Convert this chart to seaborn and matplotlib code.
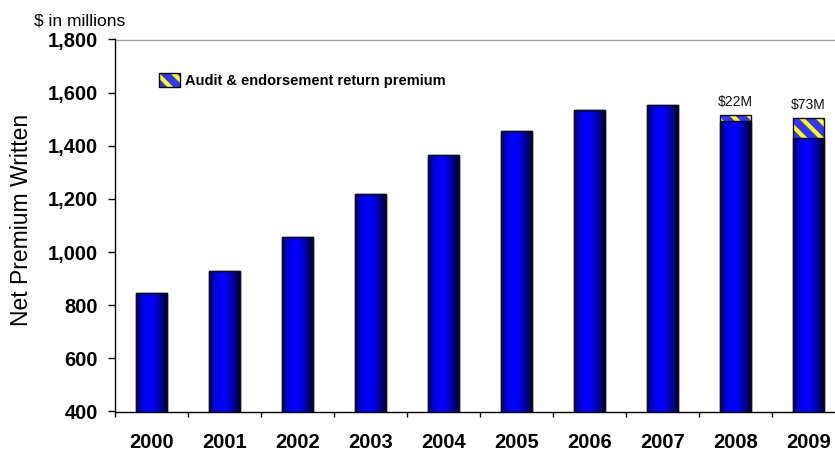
import numpy as np
import pandas as pd
import matplotlib
matplotlib.use("Agg")
import matplotlib.pyplot as plt
import seaborn as sns
from matplotlib.colors import LinearSegmentedColormap
from matplotlib.patches import Patch
from matplotlib.legend_handler import HandlerTuple
from matplotlib.ticker import FuncFormatter

# Net premium written, $ in millions
years = ["2000", "2001", "2002", "2003", "2004", "2005", "2006", "2007", "2008", "2009"]
net_premium = [845, 930, 1055, 1220, 1365, 1455, 1535, 1555, 1495, 1430]
return_premium = [0, 0, 0, 0, 0, 0, 0, 0, 22, 73]
y_ticks = [400, 600, 800, 1000, 1200, 1400, 1600, 1800]
legend_label = "Audit & endorsement return premium"

sns.set_theme(style="white")
plt.rcParams["font.family"] = ["Liberation Sans", "DejaVu Sans"]
plt.rcParams["hatch.linewidth"] = 3.0
for key in ("text.color", "axes.labelcolor", "xtick.color", "ytick.color"):
    plt.rcParams[key] = "black"

df = pd.DataFrame({"year": years, "base": net_premium, "extra": return_premium})
df["total"] = df["base"] + df["extra"]

W, H = 835, 457
Y_MIN, Y_MAX = 400, 1800
fig = plt.figure(figsize=(W / 100, H / 100), dpi=100)
ax = fig.add_axes([115 / W, 45.5 / H, 730 / W, 372 / H])

HATCH_BLUE = "#3434ff"
STRIPE = "#ffff00"
HATCH = "\\\\"
BAR_W = 0.42

# stacked totals with the striped return-premium look
sns.barplot(data=df, x="year", y="total", order=years, width=BAR_W,
            color=HATCH_BLUE, errorbar=None, ax=ax)
for b in ax.containers[-1]:
    b.set(facecolor=HATCH_BLUE, edgecolor=STRIPE, hatch=HATCH, linewidth=0, zorder=2)

# black outline around the full stack
sns.barplot(data=df, x="year", y="total", order=years, width=BAR_W,
            color="black", errorbar=None, ax=ax)
for b in ax.containers[-1]:
    b.set(facecolor="none", edgecolor="#101010", linewidth=1.0, zorder=5)

# base premium bars with a cylinder-like horizontal shading
sns.barplot(data=df, x="year", y="base", order=years, width=BAR_W,
            color="#0000ff", errorbar=None, ax=ax)
shade = LinearSegmentedColormap.from_list("shade", [
    (0.00, "#00005a"), (0.08, "#0000a0"), (0.25, "#0000e6"), (0.40, "#0000ff"),
    (0.55, "#0000f4"), (0.75, "#0000b0"), (0.90, "#000060"), (1.00, "#000030")])
grad = np.linspace(0, 1, 512).reshape(1, -1)
for b in ax.containers[-1]:
    b.set(facecolor="none", edgecolor="#0a0a20", linewidth=1.0, zorder=4)
    x0, w, h = b.get_x(), b.get_width(), b.get_height()
    im = ax.imshow(grad, extent=[x0, x0 + w, Y_MIN - 5, h], aspect="auto", cmap=shade,
                   interpolation="nearest", zorder=3)
    im.set_clip_path(b)

ax.set_xlim(-0.5, 9.5)
ax.set_ylim(Y_MIN, Y_MAX)
ax.set_xlabel("")
ax.set_ylabel("")

# y axis
ax.set_yticks(y_ticks)
ax.yaxis.set_major_formatter(FuncFormatter(lambda v, p: f"{int(v):,}"))
ax.tick_params(axis="y", which="major", direction="out", left=True, length=5,
               width=1, color="black", pad=7.5, labelsize=14.5)

# x axis: ticks between categories, labels centred on bars
ax.set_xticks(np.arange(-0.5, 10, 1), labels=[""] * 11)
ax.set_xticks(np.arange(len(years)), labels=years, minor=True)
ax.tick_params(axis="x", which="major", direction="out", bottom=True, length=3.5,
               width=1, color="black")
ax.tick_params(axis="x", which="minor", bottom=True, length=0, pad=15.5, labelsize=14.5)
for lab in ax.get_yticklabels() + ax.get_xticklabels(minor=True):
    lab.set_fontweight("bold")

for side in ("left", "bottom"):
    ax.spines[side].set(color="black", linewidth=1, zorder=6)
ax.spines["top"].set(color="#a0a0a0", linewidth=1)
ax.spines["right"].set_visible(False)

# return premium labels above the stacks
for i, (tot, extra) in enumerate(zip(df["total"], return_premium)):
    if extra:
        ax.annotate(f"${extra}M", (i, tot), xytext=(0, 9.5), textcoords="offset points",
                    ha="center", va="center", fontsize=10, color="#111111")

h_fill = Patch(facecolor=HATCH_BLUE, edgecolor=STRIPE, hatch=HATCH, linewidth=0)
h_edge = Patch(facecolor="none", edgecolor="black", linewidth=1)
ax.legend([(h_fill, h_edge)], [legend_label],
          handler_map={tuple: HandlerTuple(ndivide=1, pad=0)},
          loc="center left", bbox_to_anchor=(159 / W, 1 - 80.5 / H),
          bbox_transform=fig.transFigure, frameon=False,
          prop={"weight": "bold", "size": 10.5},
          handlelength=1.45, handleheight=1.15, handletextpad=0.35,
          borderpad=0, borderaxespad=0)

fig.text(80 / W, 1 - 21 / H, "$ in millions", ha="center", va="center", fontsize=12.5)
fig.text(22 / W, 1 - 220 / H, "Net Premium Written", rotation=90,
         ha="center", va="center", fontsize=16.5)

fig.savefig("out.png", dpi=100, facecolor="white")
